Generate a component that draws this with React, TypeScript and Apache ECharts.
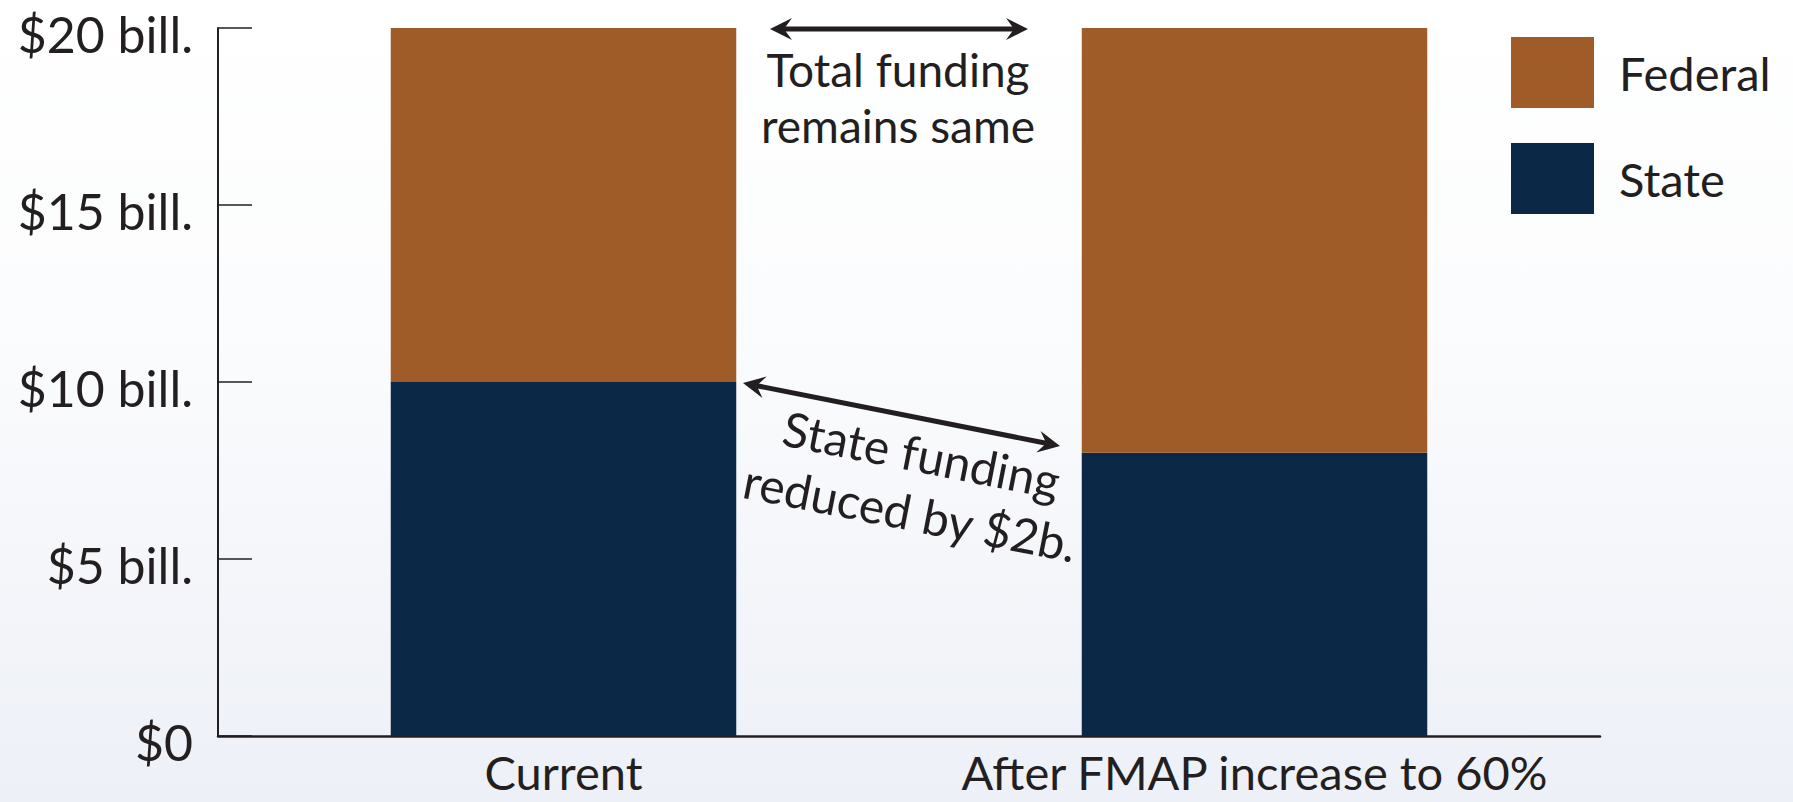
import React, { useEffect, useRef } from 'react';
import * as echarts from 'echarts';

const categories = ['Current', 'After FMAP increase to 60%'];
const stateValues = [10, 8];
const federalValues = [10, 12];
const seriesNames = ['Federal', 'State'];
const yMin = 0;
const yMax = 20;
const yInterval = 5;

const INK = '#231f20';
const FEDERAL = '#a05c28';
const STATE = '#0b2946';
const SANS = 'Lato, "Noto Sans", sans-serif';

function arrow(x1: number, y1: number, x2: number, y2: number) {
  const dx = x2 - x1;
  const dy = y2 - y1;
  const len = Math.sqrt(dx * dx + dy * dy);
  const ux = dx / len;
  const uy = dy / len;
  const px = -uy;
  const py = ux;
  const L = 22;
  const W = 11;
  const N = 14;
  const head = (tx: number, ty: number, sx: number, sy: number) => ({
    type: 'polygon',
    shape: {
      points: [
        [tx, ty],
        [tx - L * sx + W * px, ty - L * sy + W * py],
        [tx - N * sx, ty - N * sy],
        [tx - L * sx - W * px, ty - L * sy - W * py],
      ],
    },
    style: { fill: INK },
    z: 100,
  });
  return [
    {
      type: 'line',
      shape: { x1: x1 + N * ux, y1: y1 + N * uy, x2: x2 - N * ux, y2: y2 - N * uy },
      style: { stroke: INK, lineWidth: 5 },
      z: 100,
    },
    head(x2, y2, ux, uy),
    head(x1, y1, -ux, -uy),
  ];
}

export default function App() {
  const ref = useRef<HTMLDivElement>(null);
  useEffect(() => {
    document.body.style.margin = '0';
    const chart = echarts.init(ref.current!, null, { renderer: 'svg' });
    chart.setOption({
      animation: false,
      grid: { left: 218, right: 193, top: 28, bottom: 66, containLabel: false },
      legend: {
        data: seriesNames,
        orient: 'vertical',
        left: 1511,
        top: 37,
        padding: 0,
        itemWidth: 83,
        itemHeight: 71,
        itemGap: 35,
        icon: 'rect',
        selectedMode: false,
        textStyle: {
          color: INK,
          fontFamily: SANS,
          fontSize: 47,
          padding: [0, 0, 0, 20],
        },
      },
      xAxis: {
        type: 'category',
        data: categories,
        boundaryGap: true,
        axisLine: { lineStyle: { color: INK, width: 2.5 } },
        axisTick: { inside: true, length: 16, lineStyle: { color: INK, width: 2 } },
        axisLabel: {
          interval: 0,
          color: INK,
          fontFamily: SANS,
          fontSize: 47,
          lineHeight: 38,
          margin: 17,
        },
      },
      yAxis: {
        type: 'value',
        min: yMin,
        max: yMax,
        interval: yInterval,
        splitLine: { show: false },
        axisLine: { show: true, lineStyle: { color: INK, width: 2 } },
        axisTick: { show: true, inside: true, length: 34, lineStyle: { color: INK, width: 1.5 } },
        axisLabel: {
          color: INK,
          margin: 25,
          formatter: (v: number) => '{t|' + (v === 0 ? '$0' : '$' + v + ' bill.') + '}',
          rich: {
            t: {
              color: INK,
              fontFamily: SANS,
              fontSize: 50,
              padding: [12, 0, 0, 0],
            },
          },
        },
      },
      series: [
        {
          name: 'State',
          type: 'bar',
          stack: 'total',
          barWidth: '50%',
          data: stateValues,
          itemStyle: { color: STATE },
        },
        {
          name: 'Federal',
          type: 'bar',
          stack: 'total',
          barWidth: '50%',
          data: federalValues,
          itemStyle: { color: FEDERAL },
        },
      ],
      graphic: [
        ...arrow(770, 29, 1028, 29),
        ...arrow(743, 383, 1060, 446),
        {
          type: 'text',
          x: 898,
          y: 97,
          z: 100,
          style: {
            text: 'Total funding\nremains same',
            fill: INK,
            fontFamily: SANS,
            fontSize: 46,
            lineHeight: 56,
            align: 'center',
            verticalAlign: 'middle',
          },
        },
        {
          type: 'text',
          x: 916,
          y: 483,
          rotation: -0.194,
          z: 100,
          style: {
            text: 'State funding\nreduced by $2b.',
            fill: INK,
            fontFamily: SANS,
            fontSize: 48,
            lineHeight: 59,
            align: 'center',
            verticalAlign: 'middle',
          },
        },
      ],
    });
    return () => chart.dispose();
  }, []);
  return (
    <div
      ref={ref}
      style={{
        width: 1793,
        height: 802,
        background: 'linear-gradient(to bottom, #ffffff 0%, #fbfcfd 40%, #edf0f7 100%)',
      }}
    />
  );
}
